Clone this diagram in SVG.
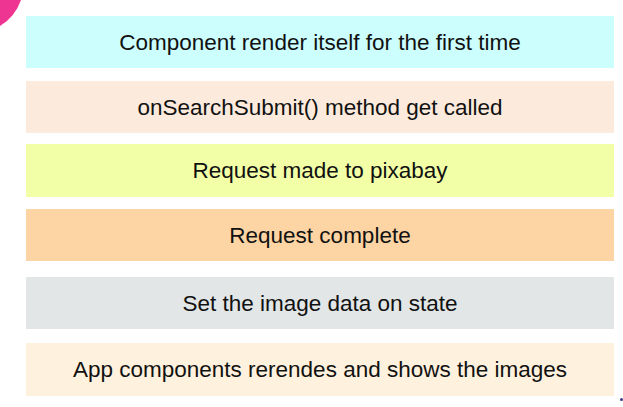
<svg xmlns="http://www.w3.org/2000/svg" width="623" height="407" viewBox="0 0 623 407">
<style>
text{font-family:"Liberation Sans",Arial,sans-serif;font-size:22.5px;fill:#111;text-anchor:middle}
</style>
<rect width="623" height="407" fill="#fff"/>
<path d="M0,0 H21 Q15,17 0,26 Z" fill="#EE3592"/>
<g id="step1"><rect x="26" y="16" width="588" height="52" fill="#CCFEFE"/><text x="320" y="50">Component render itself for the first time</text></g>
<g id="step2"><rect x="26" y="81" width="588" height="52" fill="#FCEBDC"/><text x="320" y="115">onSearchSubmit() method get called</text></g>
<g id="step3"><rect x="26" y="144" width="588" height="53" fill="#F3FFA6"/><text x="320" y="178">Request made to pixabay</text></g>
<g id="step4"><rect x="26" y="209" width="588" height="52" fill="#FDD4A3"/><text x="320" y="243">Request complete</text></g>
<g id="step5"><rect x="26" y="277" width="588" height="52" fill="#E2E6E6"/><text x="320" y="311">Set the image data on state</text></g>
<g id="step6"><rect x="26" y="343" width="588" height="53" fill="#FEF1DE"/><text x="320" y="377">App components rerendes and shows the images</text></g>
<circle cx="621.5" cy="399.5" r="1.5" fill="#3a3a8a"/>
</svg>
